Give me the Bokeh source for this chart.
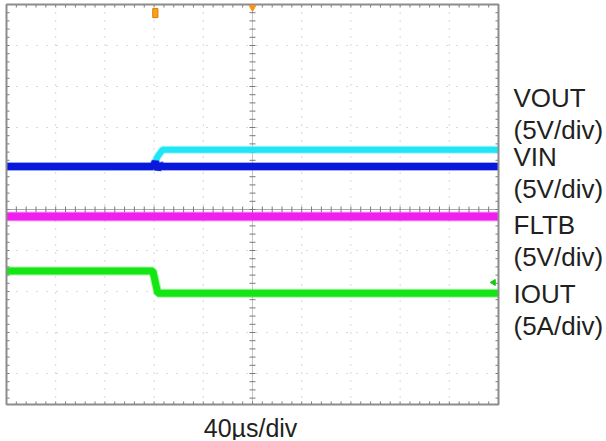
import numpy as np
from bokeh.plotting import figure
from bokeh.models import Range1d, Label
from bokeh.embed import file_html
from bokeh.resources import INLINE

# ---- data: time in µs (40 µs/div), trace levels in screen divisions ----
t_vout = [-200, -81, -77, -73, 200]
vout = [1.05, 1.05, 1.30, 1.46, 1.46]
t_vin = [-200, -81, -79, -77, -75, -73, 200]
vin = [1.05, 1.05, 1.16, 0.98, 1.09, 1.05, 1.05]
t_fltb = [-200, 200]
fltb = [-0.17, -0.17]
t_iout = [-200, -81, -77, 200]
iout = [-1.50, -1.50, -2.04, -2.04]

trigger_t = [-79]
iout_ref = [-1.78]

label_names = ["VOUT", "(5V/div)", "VIN", "(5V/div)", "FLTB", "(5V/div)", "IOUT", "(5A/div)"]
label_y = [2.73, 1.95, 1.27, 0.49, -0.39, -1.15, -2.05, -2.83]
x_label = "40µs/div"

# scope screen extent (10 div wide; y from -4.756 to 5 div)
X0, X1 = -200, 200
Y0, Y1 = -4.756, 5.0

W, H = 604, 440
KX = 492 / 400.0       # px per µs
KY = 41.0              # px per division
xs = X0 - 6 / KX
xe = xs + W / KX
ye = 209 / KY
ys = ye - H / KY

p = figure(width=W, height=H, x_range=Range1d(xs, xe), y_range=Range1d(ys, ye),
           x_axis_location=None, y_axis_location=None, toolbar_location=None,
           output_backend="svg", min_border=0)
p.outline_line_color = None
p.background_fill_color = "white"
p.border_fill_color = "white"
p.xgrid.visible = False
p.ygrid.visible = False

GRID = "#b0b0b0"
TICK = "#7a7a7a"
# dotted division grid
vx = [x for x in range(X0 + 40, X1, 40) if x != 0]
p.segment(x0=vx, y0=[Y1] * len(vx), x1=vx, y1=[Y0] * len(vx),
          line_color=GRID, line_width=1, line_dash="1 7")
hy = [y for y in range(-4, 5) if y != 0]
p.segment(x0=[X0] * len(hy), y0=hy, x1=[X1] * len(hy), y1=hy,
          line_color=GRID, line_width=1, line_dash="1 9")
# centre cross
p.segment(x0=[0], y0=[Y0], x1=[0], y1=[Y1], line_color="#8a8a8a", line_dash="1 1")
p.segment(x0=[X0], y0=[0], x1=[X1], y1=[0], line_color="#a8a8a8")

# 1/5-division tick marks on centre lines and frame edges
tx = np.arange(X0 + 8, X1 - 0.1, 8)
ty = np.round(np.arange(-4.6, 4.9, 0.2), 3)
dx = 3 / KX
dy = 3 / KY
p.segment(x0=tx, y0=[-dy] * len(tx), x1=tx, y1=[dy] * len(tx), line_color=TICK)
p.segment(x0=[-dx] * len(ty), y0=ty, x1=[dx] * len(ty), y1=ty, line_color=TICK)
p.segment(x0=tx, y0=[Y1] * len(tx), x1=tx, y1=[Y1 - dy] * len(tx), line_color=TICK)
p.segment(x0=tx, y0=[Y0] * len(tx), x1=tx, y1=[Y0 + dy] * len(tx), line_color=TICK)
p.segment(x0=[X0] * len(ty), y0=ty, x1=[X0 + dx] * len(ty), y1=ty, line_color=TICK)
p.segment(x0=[X1] * len(ty), y0=ty, x1=[X1 - dx] * len(ty), y1=ty, line_color=TICK)

# traces (noise band + core)
traces = [
    (t_vout, vout, "#1ee6f5", 6),
    (t_vin, vin, "#0a18dc", 7),
    (t_fltb, fltb, "#f01ef0", 8),
    (t_iout, iout, "#14e614", 7),
]
for tt, yy, col, w in traces:
    p.line(tt, yy, line_color=col, line_width=w + 2, line_alpha=0.35, line_join="bevel")
    p.line(tt, yy, line_color=col, line_width=w, line_join="bevel")

# scope frame
p.quad(left=[X0], right=[X1], bottom=[Y0], top=[Y1], fill_color=None,
       line_color="#8c8c8c", line_width=2)

# trigger marker & reference markers
p.rect(x=trigger_t, y=[4.79], width=4.2, height=0.22, fill_color="#f7a21b",
       line_color="#e07800", line_width=1)
p.scatter(x=[0], y=[Y1 - 0.07], marker="inverted_triangle", size=7, fill_color="#f7941d",
          line_color="#f7941d")
p.scatter(x=[196], y=iout_ref, marker="triangle", angle=np.pi / 2, size=6,
          fill_color="#14c814", line_color="#14c814")

for txt, yl in zip(label_names, label_y):
    p.add_layout(Label(x=212.2, y=yl, text=txt, text_font="Liberation Sans",
                       text_font_size="26px", text_color="#231f20",
                       text_baseline="alphabetic", text_align="left"))
p.add_layout(Label(x=-1.6, y=-5.34, text=x_label, text_font="Liberation Sans",
                   text_font_size="25px", text_color="#231f20",
                   text_baseline="alphabetic", text_align="center"))

open("out.html", "w").write(file_html(p, INLINE))
